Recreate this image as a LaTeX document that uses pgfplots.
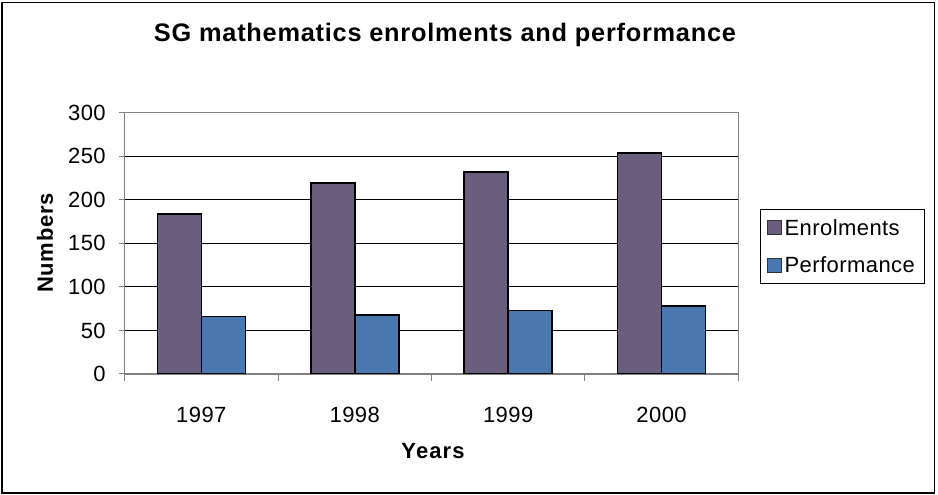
\documentclass[border=0pt]{standalone}
\usepackage{fontspec}
\setmainfont{Liberation Sans}
\usepackage{pgfplots}
\pgfplotsset{compat=1.18}
\definecolor{enrol}{RGB}{105,94,125}
\definecolor{perf}{RGB}{74,120,174}
\definecolor{axgray}{RGB}{128,128,128}
\begin{document}
\begin{tikzpicture}
% canvas 938x495 px, 1px = 0.75pt
\path (0pt,0pt) rectangle (703.5pt,371.25pt);
\draw[black, line width=0.8pt] (1.5pt,1.5pt) rectangle (701pt,369.5pt);
\begin{axis}[
  at={(93.5pt,90.75pt)}, anchor=south west,
  scale only axis, width=460.2pt, height=196pt,
  ymin=0, ymax=300, ytick={0,50,...,300},
  xmin=-0.5, xmax=3.5,
  xtick={0,1,2,3}, xticklabels={1997,1998,1999,2000},
  minor xtick={-0.5,0.5,1.5,2.5,3.5},
  major x tick style={draw=none},
  minor tick length=5.25pt, major tick length=4.5pt,
  tick align=outside,
  tick style={axgray, line width=0.75pt},
  xtick pos=bottom, ytick pos=left,
  ymajorgrids, grid style={black, line width=0.75pt},
  axis line style={axgray, line width=0.9pt},
  /pgf/number format/assume math mode=true,
  tick label style={font=\fontsize{16.5}{19}\selectfont\addfontfeature{LetterSpace=2}},
  yticklabel style={anchor=east, inner sep=0pt, xshift=-9.5pt},
  xticklabel style={anchor=center, inner sep=0pt, yshift=-26.25pt},
  ybar=0pt, bar width=33pt,
  legend style={at={(1.0354,0.630)}, anchor=north west, draw=black, line width=0.6pt,
    font=\fontsize{16.5}{19}\selectfont\addfontfeature{LetterSpace=2},
    inner xsep=5pt, inner ysep=5pt, row sep=10.5pt, cells={anchor=west}},
  legend image code/.code={\draw[#1, line width=0.6pt, draw=black!80] (0pt,-5pt) rectangle (10.5pt,5.5pt);},
  legend image post style={xshift=0pt},
  every legend entry/.style={},
]
\addplot[fill=enrol, draw=black, line width=1.2pt] coordinates {(0,184) (1,219) (2,232) (3,254)};
\addplot[fill=perf, draw=black, line width=1.2pt] coordinates {(0,66) (1,68) (2,73) (3,78)};
\legend{Enrolments,Performance}
\end{axis}
\node[font=\fontsize{19}{22}\selectfont\bfseries\addfontfeature{LetterSpace=3}] at (333.75pt,345pt) {SG mathematics enrolments and performance};
\node[font=\fontsize{16.5}{19}\selectfont\bfseries\addfontfeature{LetterSpace=3}, rotate=90] at (33.75pt,189pt) {Numbers};
\node[font=\fontsize{16.5}{19}\selectfont\bfseries\addfontfeature{LetterSpace=5}] at (324.75pt,33pt) {Years};
\end{tikzpicture}
\end{document}
